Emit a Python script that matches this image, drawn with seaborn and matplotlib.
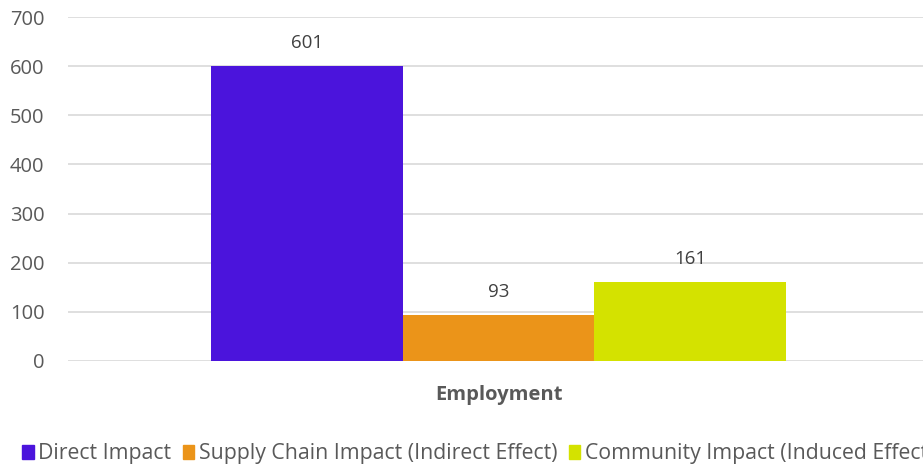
import pandas as pd
import matplotlib.pyplot as plt
import seaborn as sns

# Chart data
categories = ['Employment']
series = ['Direct Impact', 'Supply Chain Impact (Indirect Effect)', 'Community Impact (Induced Effect)']
values = [601, 93, 161]
colors = ['#4B14DC', '#EB9419', '#D4E200']

df = pd.DataFrame({'Category': categories * len(series), 'Series': series, 'Value': values})

sns.set_style('white')
plt.rcParams['font.family'] = ['Open Sans', 'DejaVu Sans']

fig = plt.figure(figsize=(9.23, 4.65), dpi=100)
ax = fig.add_axes([0.0737, 0.2237, 0.9328, 0.7396])

sns.barplot(data=df, x='Category', y='Value', hue='Series', palette=colors,
            width=0.668, saturation=1, linewidth=0, ax=ax, legend=False)

for c in ax.containers:
    ax.bar_label(c, padding=10, fontsize=13.5, color='#404040')

ax.set_ylim(0, 700)
ax.set_yticks(range(0, 701, 100))
ax.grid(axis='y', color='#d9d9d9', linewidth=1.2)
ax.set_axisbelow(True)
for s in ax.spines.values():
    s.set_visible(False)
ax.tick_params(axis='y', length=0, pad=17, labelsize=14.5, labelcolor='#595959')
ax.tick_params(axis='x', length=0, pad=17)
for t in ax.get_xticklabels():
    t.set_fontsize(14.5)
    t.set_fontweight('bold')
    t.set_color('#595959')
ax.set_xlabel('')
ax.set_ylabel('')

handles = [plt.Rectangle((0, 0), 1, 1, color=c) for c in colors]
fig.legend(handles, series, loc='lower left', bbox_to_anchor=(0.003, -0.04), ncol=3,
           frameon=False, fontsize=15.3, handlelength=0.55, handleheight=0.7,
           handletextpad=0.2, columnspacing=0.55, labelcolor='#595959')

fig.savefig('out.png', dpi=100)
